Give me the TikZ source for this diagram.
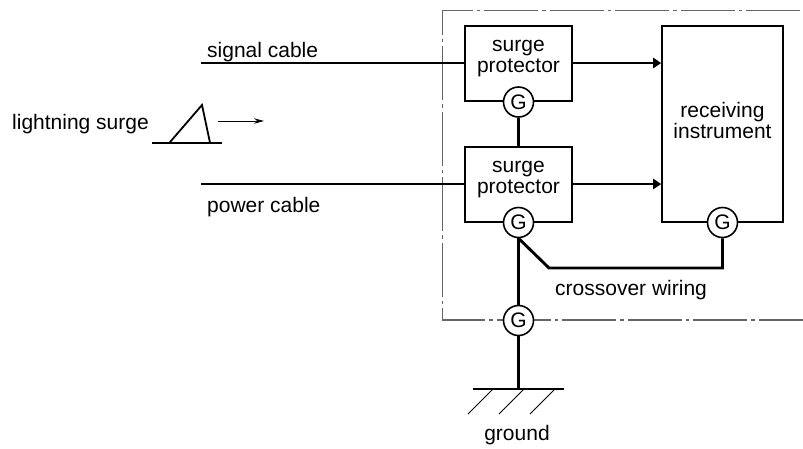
\documentclass[tikz,border=0pt]{standalone}
\usepackage{fontspec}
\setmainfont{Liberation Sans}
\usetikzlibrary{arrows.meta}
\tikzset{
  box/.style={draw=black,line width=1.6pt,inner sep=0pt,align=center},
  gnode/.style={circle,draw=black,fill=white,line width=1.6pt,minimum size=30pt,inner sep=0pt,font=\fontsize{21}{21}\selectfont},
  wire/.style={line width=2.9pt,black},
  wirearrow/.style={wire,-{Triangle[length=8pt,width=10pt]}},
  thinline/.style={line width=1.8pt,black},
  hatch/.style={line width=1pt,black},
  frameline/.style={line width=1.1pt,black!60,dash pattern=on 54pt off 4pt on 3.5pt off 4pt,dash phase=62.5pt},
  lbl/.style={inner sep=0pt,anchor=base west,font=\fontsize{21}{21}\selectfont},
}
\begin{document}
\begin{tikzpicture}[x=1pt,y=-1pt]
\useasboundingbox (0,0) rectangle (803,448);
\draw[frameline] (803,10.7) -- (442.7,10.7) -- (442.7,320) -- (803,320);
\node[box,minimum width=107pt,minimum height=75.5pt] (sp1) at (518.5,63.5) {};
\node[box,minimum width=107pt,minimum height=75.5pt] (sp2) at (518.5,184.5) {};
\node[box,minimum width=121pt,minimum height=196.5pt] (ri) at (722.5,124) {};
\node[lbl,anchor=base] (sp1a) at (518.5,51.3) {surge};
\node[lbl,anchor=base] (sp1b) at (518.5,72.5) {protector};
\node[lbl,anchor=base] (sp2a) at (518.5,172.3) {surge};
\node[lbl,anchor=base] (sp2b) at (518.5,193.5) {protector};
\node[lbl,anchor=base] (ria) at (722.5,117.5) {receiving};
\node[lbl,anchor=base] (rib) at (722.5,138.7) {instrument};
\node[gnode] (g1) at (518.5,102) {G};
\node[gnode] (g2) at (518.5,222.5) {G};
\node[gnode] (g3) at (722.5,222.5) {G};
\node[gnode] (g4) at (518.5,320.5) {G};
\coordinate (sig) at (201,63);
\coordinate (pow) at (201,184);
\coordinate (ri1) at (ri.west |- 0,63);
\coordinate (ri2) at (ri.west |- 0,184);
\coordinate (cr1) at (549,268);
\coordinate (cr2) at (g3.south |- 0,268);
\coordinate (gnd) at (518.5,388.5);
\draw[wire] (sig) -- (sp1.west |- sig);
\draw[wire] (pow) -- (sp2.west |- pow);
\draw[wirearrow] (sp1.east |- sig) -- (ri1);
\draw[wirearrow] (sp2.east |- pow) -- (ri2);
\draw[wire] (g1.south) -- (sp2.north -| g1.south);
\draw[wire] (g2.south) -- (g4.north);
\draw[wire] (g4.south) -- (gnd);
\draw[wire,line join=miter] (g2.south) -- (cr1) -- (cr2) -- (g3.south);
% ground
\draw[thinline] (473,388.7) -- (564,388.7);
\draw[hatch] (493,389) -- (468,414);
\draw[hatch] (524,389) -- (499,414);
\draw[hatch] (555,389) -- (530,414);
% lightning
\draw[thinline] (152,142.7) -- (221.7,142.7);
\draw[thinline,line join=miter] (169.5,142.7) -- (202,105) -- (210,142.7);
\coordinate (a1) at (217.5,121);
\coordinate (a2) at (264,121);
\draw[line width=1pt,black,-{Stealth[length=10pt,width=5.5pt]}] (a1) -- (a2);
% labels
\node[lbl] (l1) at (12,129) {lightning surge};
\node[lbl] (l2) at (207,57) {signal cable};
\node[lbl] (l3) at (207,212) {power cable};
\node[lbl] (l4) at (555,295) {crossover wiring};
\node[lbl,anchor=base] (l5) at (517,440) {ground};
\end{tikzpicture}
\end{document}
